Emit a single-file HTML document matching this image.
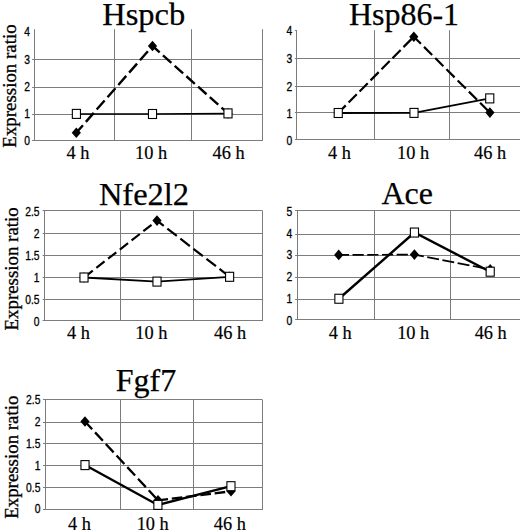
<!DOCTYPE html>
<html><head><meta charset="utf-8"><title>Expression ratio charts</title>
<style>html,body{margin:0;padding:0;background:#fff}svg{display:block}.s{font-family:"Liberation Serif",serif}.n{font-family:"Liberation Sans",sans-serif}</style></head>
<body>
<svg width="520" height="532" viewBox="0 0 520 532">
<rect width="520" height="532" fill="#fff"/>
<g stroke="#7c7c7c" stroke-width="1">
<line x1="32.1" y1="140.5" x2="262.75" y2="140.5"/>
<line x1="32.1" y1="114.5" x2="262.75" y2="114.5"/>
<line x1="32.1" y1="87.5" x2="262.75" y2="87.5"/>
<line x1="32.1" y1="59.5" x2="262.75" y2="59.5"/>
<line x1="34.5" y1="29.2" x2="34.5" y2="141.0"/>
<line x1="114.5" y1="29.2" x2="114.5" y2="141.0"/>
<line x1="191.5" y1="29.2" x2="191.5" y2="141.0"/>
<line x1="262.5" y1="29.2" x2="262.5" y2="141.0"/>
</g>
<g class="n" font-size="12" fill="#000" stroke="#000" stroke-width="0.3" text-anchor="end">
<text transform="translate(30,145.40) scale(0.86,1)">0</text>
<text transform="translate(30,117.90) scale(0.86,1)">1</text>
<text transform="translate(30,90.90) scale(0.86,1)">2</text>
<text transform="translate(30,63.60) scale(0.86,1)">3</text>
<text transform="translate(30,35.70) scale(0.86,1)">4</text>
</g>
<text x="143.75" y="25" text-anchor="middle" class="s" font-size="32.5" fill="#000" stroke="#000" stroke-width="0.25">Hspcb</text>
<g class="s" font-size="19" fill="#000" stroke="#000" stroke-width="0.2" text-anchor="middle">
<text transform="translate(78,159.0) scale(0.965,1.02)">4 h</text>
<text transform="translate(151.1,159.0) scale(0.965,1.02)">10 h</text>
<text transform="translate(228.5,159.0) scale(0.965,1.02)">46 h</text>
</g>
<text transform="translate(16.0,86.0) rotate(-90) scale(1,1.03)" text-anchor="middle" class="s" font-size="18.9" fill="#000" stroke="#000" stroke-width="0.3">Expression ratio</text>
<line x1="76.3" y1="132.80" x2="152.5" y2="46.00" stroke="#000" stroke-width="2.4" stroke-dasharray="12 4.4" stroke-dashoffset="1.9"/>
<line x1="152.5" y1="46.00" x2="228" y2="113.40" stroke="#000" stroke-width="2.4" stroke-dasharray="11.3 4.4" stroke-dashoffset="1.67"/>
<polygon points="76.3,127.50 80.89999999999999,132.80 76.3,138.10 71.7,132.80" fill="#000"/>
<polygon points="152.5,40.70 157.1,46.00 152.5,51.30 147.9,46.00" fill="#000"/>
<polygon points="228,108.10 232.6,113.40 228,118.70 223.4,113.40" fill="#000"/>
<polyline points="76.4,113.90 152.5,114.00 228,113.40" fill="none" stroke="#000" stroke-width="1.5"/>
<rect x="72.35" y="109.40" width="8.1" height="9.0" fill="#fff" stroke="#000" stroke-width="1.1"/>
<rect x="148.45" y="109.50" width="8.1" height="9.0" fill="#fff" stroke="#000" stroke-width="1.1"/>
<rect x="223.95" y="108.90" width="8.1" height="9.0" fill="#fff" stroke="#000" stroke-width="1.1"/>
<g stroke="#7c7c7c" stroke-width="1">
<line x1="294.9" y1="139.5" x2="520" y2="139.5"/>
<line x1="294.9" y1="112.5" x2="520" y2="112.5"/>
<line x1="294.9" y1="86.5" x2="520" y2="86.5"/>
<line x1="294.9" y1="58.5" x2="520" y2="58.5"/>
<line x1="294.9" y1="30.5" x2="296.9" y2="30.5"/>
<line x1="296.5" y1="30.2" x2="296.5" y2="140.0"/>
<line x1="374.5" y1="30.2" x2="374.5" y2="140.0"/>
<line x1="449.5" y1="30.2" x2="449.5" y2="140.0"/>
</g>
<g class="n" font-size="12" fill="#000" stroke="#000" stroke-width="0.3" text-anchor="end">
<text transform="translate(292.2,145.00) scale(0.86,1)">0</text>
<text transform="translate(292.2,117.60) scale(0.86,1)">1</text>
<text transform="translate(292.2,90.60) scale(0.86,1)">2</text>
<text transform="translate(292.2,63.00) scale(0.86,1)">3</text>
<text transform="translate(292.2,35.40) scale(0.86,1)">4</text>
</g>
<text x="404" y="25" text-anchor="middle" class="s" font-size="32" fill="#000" stroke="#000" stroke-width="0.25">Hsp86-1</text>
<g class="s" font-size="19" fill="#000" stroke="#000" stroke-width="0.2" text-anchor="middle">
<text transform="translate(339.5,158.5) scale(0.965,1.02)">4 h</text>
<text transform="translate(413.0,158.5) scale(0.965,1.02)">10 h</text>
<text transform="translate(490,158.5) scale(0.965,1.02)">46 h</text>
</g>
<line x1="338.25" y1="113.00" x2="413.8" y2="36.70" stroke="#000" stroke-width="2.2" stroke-dasharray="11.6 4" stroke-dashoffset="0.9"/>
<line x1="413.8" y1="36.70" x2="489.9" y2="112.60" stroke="#000" stroke-width="2.2" stroke-dasharray="11.5 4.35" stroke-dashoffset="1.45"/>
<polygon points="338.25,107.70 342.85,113.00 338.25,118.30 333.65,113.00" fill="#000"/>
<polygon points="413.8,31.40 418.40000000000003,36.70 413.8,42.00 409.2,36.70" fill="#000"/>
<polygon points="489.9,107.30 494.5,112.60 489.9,117.90 485.29999999999995,112.60" fill="#000"/>
<polyline points="338.25,113.00 414,112.90 489.75,98.40" fill="none" stroke="#000" stroke-width="1.8"/>
<rect x="334.20" y="108.50" width="8.1" height="9.0" fill="#fff" stroke="#000" stroke-width="1.1"/>
<rect x="409.95" y="108.40" width="8.1" height="9.0" fill="#fff" stroke="#000" stroke-width="1.1"/>
<rect x="485.70" y="93.90" width="8.1" height="9.0" fill="#fff" stroke="#000" stroke-width="1.1"/>
<g stroke="#7c7c7c" stroke-width="1">
<line x1="42.6" y1="320.5" x2="262" y2="320.5"/>
<line x1="42.6" y1="299.5" x2="262" y2="299.5"/>
<line x1="42.6" y1="277.5" x2="262" y2="277.5"/>
<line x1="42.6" y1="255.5" x2="262" y2="255.5"/>
<line x1="42.6" y1="233.5" x2="262" y2="233.5"/>
<line x1="42.6" y1="210.5" x2="262" y2="210.5"/>
<line x1="44.5" y1="210.4" x2="44.5" y2="321.0"/>
<line x1="120.5" y1="210.4" x2="120.5" y2="321.0"/>
<line x1="193.5" y1="210.4" x2="193.5" y2="321.0"/>
<line x1="262.5" y1="210.4" x2="262.5" y2="321.0"/>
</g>
<g class="n" font-size="12" fill="#000" stroke="#000" stroke-width="0.3" text-anchor="end">
<text transform="translate(39.6,325.70) scale(0.86,1)">0</text>
<text transform="translate(39.6,304.00) scale(0.86,1)">0.5</text>
<text transform="translate(39.6,281.90) scale(0.86,1)">1</text>
<text transform="translate(39.6,259.60) scale(0.86,1)">1.5</text>
<text transform="translate(39.6,237.90) scale(0.86,1)">2</text>
<text transform="translate(39.6,215.90) scale(0.86,1)">2.5</text>
</g>
<text x="144" y="205" text-anchor="middle" class="s" font-size="32.5" fill="#000" stroke="#000" stroke-width="0.25">Nfe2l2</text>
<g class="s" font-size="19" fill="#000" stroke="#000" stroke-width="0.2" text-anchor="middle">
<text transform="translate(78.5,338.8) scale(0.965,1.02)">4 h</text>
<text transform="translate(151.4,338.8) scale(0.965,1.02)">10 h</text>
<text transform="translate(230,338.8) scale(0.965,1.02)">46 h</text>
</g>
<text transform="translate(17.5,268.9) rotate(-90) scale(1,1.03)" text-anchor="middle" class="s" font-size="18.9" fill="#000" stroke="#000" stroke-width="0.3">Expression ratio</text>
<line x1="84" y1="277.50" x2="157" y2="220.60" stroke="#000" stroke-width="2.2" stroke-dasharray="10.4 4.5" stroke-dashoffset="14.15"/>
<line x1="157" y1="220.60" x2="229.6" y2="276.80" stroke="#000" stroke-width="2.2" stroke-dasharray="12 4.5" stroke-dashoffset="3.45"/>
<polygon points="84,272.20 88.6,277.50 84,282.80 79.4,277.50" fill="#000"/>
<polygon points="157,215.30 161.6,220.60 157,225.90 152.4,220.60" fill="#000"/>
<polygon points="229.6,271.50 234.2,276.80 229.6,282.10 225.0,276.80" fill="#000"/>
<polyline points="84,277.50 157,281.60 229.6,276.80" fill="none" stroke="#000" stroke-width="1.8"/>
<rect x="79.95" y="273.00" width="8.1" height="9.0" fill="#fff" stroke="#000" stroke-width="1.1"/>
<rect x="152.95" y="277.10" width="8.1" height="9.0" fill="#fff" stroke="#000" stroke-width="1.1"/>
<rect x="225.55" y="272.30" width="8.1" height="9.0" fill="#fff" stroke="#000" stroke-width="1.1"/>
<g stroke="#7c7c7c" stroke-width="1">
<line x1="295.1" y1="319.5" x2="520" y2="319.5"/>
<line x1="295.1" y1="299.5" x2="520" y2="299.5"/>
<line x1="295.1" y1="277.5" x2="520" y2="277.5"/>
<line x1="295.1" y1="255.5" x2="520" y2="255.5"/>
<line x1="295.1" y1="234.5" x2="520" y2="234.5"/>
<line x1="295.1" y1="210.5" x2="520" y2="210.5"/>
<line x1="297.5" y1="210.4" x2="297.5" y2="320.0"/>
<line x1="374.5" y1="210.4" x2="374.5" y2="320.0"/>
<line x1="450.5" y1="210.4" x2="450.5" y2="320.0"/>
</g>
<g class="n" font-size="12" fill="#000" stroke="#000" stroke-width="0.3" text-anchor="end">
<text transform="translate(292.3,324.90) scale(0.86,1)">0</text>
<text transform="translate(292.3,303.00) scale(0.86,1)">1</text>
<text transform="translate(292.3,281.35) scale(0.86,1)">2</text>
<text transform="translate(292.3,259.10) scale(0.86,1)">3</text>
<text transform="translate(292.3,237.60) scale(0.86,1)">4</text>
<text transform="translate(292.3,215.60) scale(0.86,1)">5</text>
</g>
<text x="407.25" y="204" text-anchor="middle" class="s" font-size="32" fill="#000" stroke="#000" stroke-width="0.25">Ace</text>
<g class="s" font-size="19" fill="#000" stroke="#000" stroke-width="0.2" text-anchor="middle">
<text transform="translate(340.2,338.6) scale(0.965,1.02)">4 h</text>
<text transform="translate(413.2,338.6) scale(0.965,1.02)">10 h</text>
<text transform="translate(490.7,338.6) scale(0.965,1.02)">46 h</text>
</g>
<line x1="338.7" y1="254.90" x2="414.4" y2="254.60" stroke="#000" stroke-width="1.7" stroke-dasharray="11.2 3.5" stroke-dashoffset="0.85"/>
<line x1="414.4" y1="254.60" x2="490.2" y2="269.40" stroke="#000" stroke-width="1.7" stroke-dasharray="12 3.5" stroke-dashoffset="2.45"/>
<polygon points="338.7,249.60 343.3,254.90 338.7,260.20 334.09999999999997,254.90" fill="#000"/>
<polygon points="414.4,249.30 419.0,254.60 414.4,259.90 409.79999999999995,254.60" fill="#000"/>
<polygon points="490.2,264.10 494.8,269.40 490.2,274.70 485.59999999999997,269.40" fill="#000"/>
<polyline points="338.9,298.75 414.45,232.55 490.2,271.70" fill="none" stroke="#000" stroke-width="2.4"/>
<rect x="334.85" y="294.25" width="8.1" height="9.0" fill="#fff" stroke="#000" stroke-width="1.1"/>
<rect x="410.40" y="228.05" width="8.1" height="9.0" fill="#fff" stroke="#000" stroke-width="1.1"/>
<rect x="486.15" y="267.20" width="8.1" height="9.0" fill="#fff" stroke="#000" stroke-width="1.1"/>
<g stroke="#7c7c7c" stroke-width="1">
<line x1="43.0" y1="509.5" x2="262.3" y2="509.5"/>
<line x1="43.0" y1="487.5" x2="262.3" y2="487.5"/>
<line x1="43.0" y1="465.5" x2="262.3" y2="465.5"/>
<line x1="43.0" y1="443.5" x2="262.3" y2="443.5"/>
<line x1="43.0" y1="422.5" x2="262.3" y2="422.5"/>
<line x1="43.0" y1="399.5" x2="262.3" y2="399.5"/>
<line x1="45.5" y1="399.6" x2="45.5" y2="510.0"/>
<line x1="120.5" y1="399.6" x2="120.5" y2="510.0"/>
<line x1="193.5" y1="399.6" x2="193.5" y2="510.0"/>
<line x1="262.5" y1="399.6" x2="262.5" y2="510.0"/>
</g>
<g class="n" font-size="12" fill="#000" stroke="#000" stroke-width="0.3" text-anchor="end">
<text transform="translate(40.4,512.90) scale(0.86,1)">0</text>
<text transform="translate(40.4,491.60) scale(0.86,1)">0.5</text>
<text transform="translate(40.4,469.90) scale(0.86,1)">1</text>
<text transform="translate(40.4,447.70) scale(0.86,1)">1.5</text>
<text transform="translate(40.4,425.90) scale(0.86,1)">2</text>
<text transform="translate(40.4,403.90) scale(0.86,1)">2.5</text>
</g>
<text x="145.9" y="390.75" text-anchor="middle" class="s" font-size="32" fill="#000" stroke="#000" stroke-width="0.25">Fgf7</text>
<g class="s" font-size="19" fill="#000" stroke="#000" stroke-width="0.2" text-anchor="middle">
<text transform="translate(79.35,529.6) scale(0.965,1.02)">4 h</text>
<text transform="translate(152.7,529.6) scale(0.965,1.02)">10 h</text>
<text transform="translate(229.9,529.6) scale(0.965,1.02)">46 h</text>
</g>
<text transform="translate(18.0,457.2) rotate(-90) scale(1,1.03)" text-anchor="middle" class="s" font-size="18.9" fill="#000" stroke="#000" stroke-width="0.3">Expression ratio</text>
<line x1="85" y1="421.50" x2="158" y2="500.30" stroke="#000" stroke-width="2.3" stroke-dasharray="11.5 4.3" stroke-dashoffset="1.0"/>
<line x1="158" y1="500.30" x2="231" y2="491.30" stroke="#000" stroke-width="2.3" stroke-dasharray="10.6 3.8" stroke-dashoffset="0.5"/>
<polygon points="85,416.20 89.6,421.50 85,426.80 80.4,421.50" fill="#000"/>
<polygon points="158,495.00 162.6,500.30 158,505.60 153.4,500.30" fill="#000"/>
<polygon points="231,486.00 235.6,491.30 231,496.60 226.4,491.30" fill="#000"/>
<polyline points="85,465.10 157.9,504.90 230.95,486.20" fill="none" stroke="#000" stroke-width="2.3"/>
<rect x="80.95" y="460.60" width="8.1" height="9.0" fill="#fff" stroke="#000" stroke-width="1.1"/>
<rect x="153.85" y="500.40" width="8.1" height="9.0" fill="#fff" stroke="#000" stroke-width="1.1"/>
<rect x="226.90" y="481.70" width="8.1" height="9.0" fill="#fff" stroke="#000" stroke-width="1.1"/>
</svg>
</body></html>
